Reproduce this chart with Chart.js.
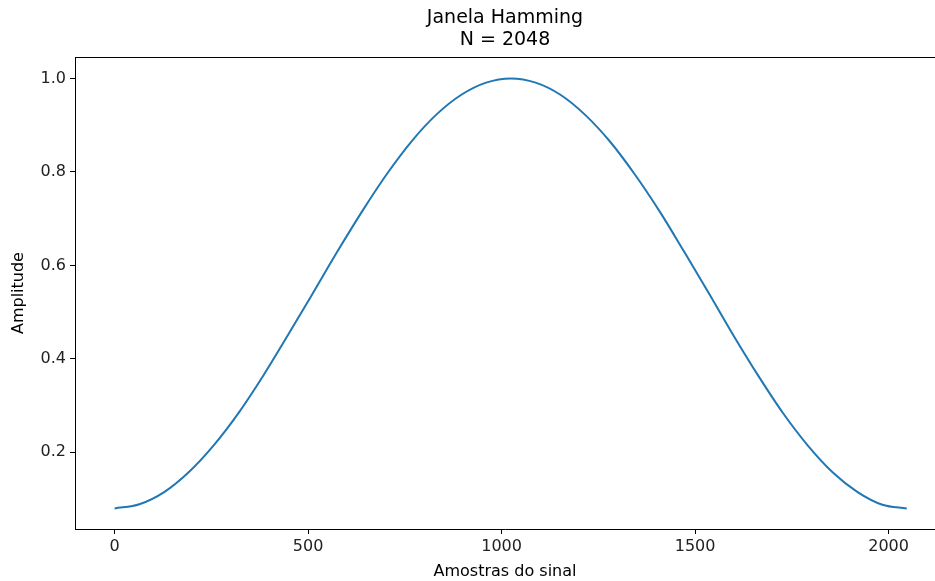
<!DOCTYPE html>
<html>
<head>
<meta charset="utf-8">
<script src="https://cdn.jsdelivr.net/npm/chart.js@4"></script>
<style>
  html, body { margin: 0; padding: 0; background: #fff; }
  #wrap { width: 935px; height: 581px; }
</style>
</head>
<body>
<div id="wrap"><canvas id="myChart"></canvas></div>
<script>
// amostras (eixo x) e amplitude
const samples = [0, 64, 128, 192, 256, 320, 384, 448, 512, 576, 640, 704, 768, 832, 896, 960, 1024,
    1088, 1152, 1216, 1280, 1344, 1408, 1472, 1536, 1600, 1664, 1728, 1792, 1856, 1920, 1984, 2047];
const amplitude = [0.080, 0.089, 0.115, 0.158, 0.215, 0.284, 0.364, 0.451, 0.540, 0.630, 0.716, 0.796, 0.866, 0.923, 0.965, 0.991, 1.000,
    0.991, 0.965, 0.922, 0.865, 0.795, 0.716, 0.629, 0.540, 0.449, 0.363, 0.283, 0.214, 0.157, 0.115, 0.088, 0.080];
const xTicks = [0, 500, 1000, 1500, 2000];
const yTicks = [0.2, 0.4, 0.6, 0.8, 1.0];

const pts = samples.map((s, i) => ({ x: s, y: amplitude[i] }));

Chart.defaults.font.family = "DejaVu Sans";
Chart.defaults.color = "#222";

// top spine only: the right one falls outside the picture in the reference
const topLine = {
    id: "topLine",
    afterDraw(chart) {
        const a = chart.chartArea;
        const c = chart.ctx;
        const y = Math.round(a.top) + 0.5;
        c.save();
        c.strokeStyle = "#000";
        c.lineWidth = 1;
        c.beginPath();
        c.moveTo(a.left, y);
        c.lineTo(chart.width, y);
        c.stroke();
        c.restore();
    },
};

new Chart(document.getElementById("myChart"), {
    type: "scatter",
    data: {
        datasets: [{
            data: pts,
            showLine: true,
            borderColor: "#1f77b4",
            borderWidth: 2,
            pointRadius: 0,
            cubicInterpolationMode: "monotone",
        }],
    },
    options: {
        responsive: true,
        maintainAspectRatio: false,
        animation: false,
        layout: { padding: { left: 8, right: 0, top: 7, bottom: 0 } },
        plugins: {
            legend: { display: false },
            tooltip: { enabled: false },
            title: {
                display: true,
                fullSize: false,
                align: "center",
                text: ["Janela Hamming", "N = 2048"],
                color: "#000",
                font: { size: 19, weight: "normal", lineHeight: 1.16 },
                padding: { top: 0, bottom: 6 },
            },
        },
        scales: {
            x: {
                type: "linear",
                min: -102.35,
                max: 2120,
                afterBuildTicks: (s) => { s.ticks = xTicks.map((v) => ({ value: v })); },
                afterFit: (s) => { s.height = 52; },
                grid: { drawOnChartArea: false, drawTicks: true, tickLength: 5, color: "#000" },
                border: { display: true, color: "#000" },
                ticks: { color: "#222", font: { size: 16 }, padding: 3, maxRotation: 0, callback: (v) => String(v) },
                title: { display: true, text: "Amostras do sinal", color: "#000", font: { size: 16 }, padding: { top: 0, bottom: 0 } },
            },
            y: {
                type: "linear",
                min: 0.036,
                max: 1.0456,
                afterBuildTicks: (s) => { s.ticks = yTicks.map((v) => ({ value: v })); },
                afterFit: (s) => { s.width = 67; },
                grid: { drawOnChartArea: false, drawTicks: true, tickLength: 5, color: "#000" },
                border: { display: true, color: "#000" },
                ticks: { color: "#222", font: { size: 16 }, padding: 4, callback: (v) => v.toFixed(1) },
                title: { display: true, text: "Amplitude", color: "#000", font: { size: 16 }, padding: { top: 1, bottom: 0 } },
            },
        },
    },
    plugins: [topLine],
});
</script>
</body>
</html>
